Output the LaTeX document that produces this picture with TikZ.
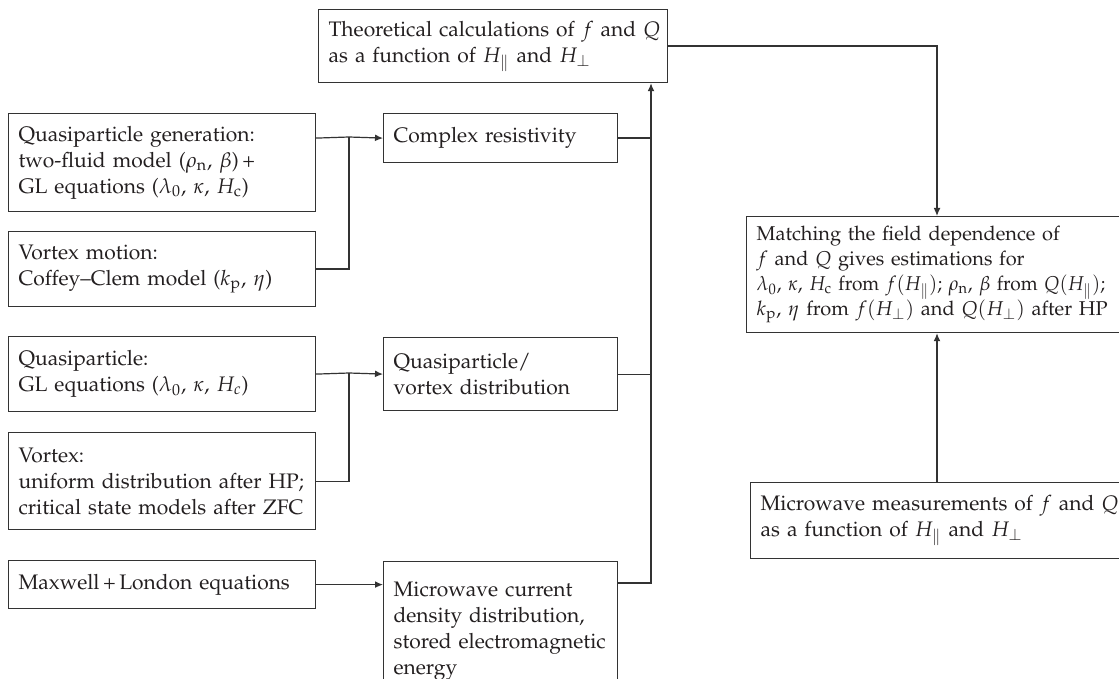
\documentclass[tikz,border=0pt]{standalone}
\usepackage[T1]{fontenc}
\usepackage{mathpazo}
\usepackage{graphicx}
\usetikzlibrary{arrows.meta}
\definecolor{linec}{HTML}{333333}
\definecolor{textc}{HTML}{231F20}
\newcommand\oneline[1]{\mbox{#1}}
\tikzset{
  box/.style={draw=linec, line width=0.6pt, anchor=north west, align=left,
    inner xsep=5pt, inner ysep=0pt, text=textc,
    font=\fontsize{10.5}{13}\selectfont},
  ln/.style={draw=linec, line width=0.6pt},
  arr/.style={ln, -{Latex[length=4pt,width=3.4pt]}}
}
\begin{document}
\begin{tikzpicture}[x=0.5pt,y=-0.5pt]
\useasboundingbox (0,0) rectangle (1119,679);
% boxes
\node[box, minimum width=174.5pt, minimum height=36.5pt, text width=164.5pt] (theo) at (318,9)
  {\oneline{Theoretical calculations of $f$ and $Q$}\\\oneline{as a function of $H_{\parallel}$ and $H_{\perp}$}};
\node[box, minimum width=153.5pt, minimum height=49pt, text width=143.5pt] (qg) at (8,113)
  {\oneline{Quasiparticle generation:}\\\oneline{two-fluid model ($\rho_{\mathrm{n}}$, $\beta$)\,+}\\\oneline{GL equations ($\lambda_0$, $\kappa$, $H_{\mathrm{c}}$)}};
\node[box, minimum width=153.5pt, minimum height=37.5pt, text width=143.5pt] (vm) at (8,231)
  {\oneline{Vortex motion:}\\\oneline{Coffey--Clem model ($k_{\mathrm{p}}$, $\eta$)}};
\node[box, minimum width=153.5pt, minimum height=37.5pt, text width=143.5pt] (qp) at (8,336)
  {\oneline{Quasiparticle:}\\\oneline{GL equations ($\lambda_0$, $\kappa$, $H_c$)}};
\node[box, minimum width=153.5pt, minimum height=48.5pt, text width=143.5pt] (vx) at (8,432)
  {\oneline{Vortex:}\\\oneline{uniform distribution after HP;}\\\oneline{critical state models after ZFC}};
\node[box, minimum width=153.5pt, minimum height=24pt, text width=143.5pt] (mx) at (8,560)
  {\oneline{Maxwell\,+\,London equations}};
\node[box, minimum width=117pt, minimum height=24.5pt, text width=107pt] (cr) at (383,113)
  {\oneline{Complex resistivity}};
\node[box, minimum width=117pt, minimum height=36.5pt, text width=107pt] (qv) at (383,337)
  {\oneline{Quasiparticle/}\\\oneline{vortex distribution}};
\node[box, minimum width=117pt, minimum height=70pt, text width=107pt] (mc) at (383,561)
  {\oneline{Microwave current}\\\oneline{density distribution,}\\\oneline{stored electromagnetic}\\\oneline{energy}};
\node[box, minimum width=189.5pt, minimum height=58pt, text width=179.5pt,
      font=\fontsize{10}{12.5}\selectfont] (match) at (746,216)
  {\oneline{Matching the field dependence of}\\\oneline{$f$ and $Q$ gives estimations for}\\\scalebox{0.955}[1]{$\lambda_0$, $\kappa$, $H_{\mathrm{c}}$ from $f(H_{\parallel})$; $\rho_{\mathrm{n}}$, $\beta$ from $Q(H_{\parallel})$;}\\\oneline{$k_{\mathrm{p}}$, $\eta$ from $f(H_{\perp})$ and $Q(H_{\perp})$ after HP}};
\node[box, minimum width=187.5pt, minimum height=38pt, text width=177.5pt] (meas) at (750,482)
  {\oneline{Microwave measurements of $f$ and $Q$}\\\oneline{as a function of $H_{\parallel}$ and $H_{\perp}$}};
% junction coordinates
\coordinate (j1) at (349,137);
\coordinate (j2) at (349,373);
\coordinate (bus) at (651,583);
\coordinate (rt) at (937,45);
% connectors
\draw[ln] (qg.east |- cr.west) -- (j1);
\draw[ln] (vm.east) -| (j1);
\draw[arr] (j1) -- (cr.west);
\draw[ln] (qp.east |- qv.west) -- (j2);
\draw[ln] (vx.east) -| (j2);
\draw[arr] (j2) -- (qv.west);
\draw[arr] (mx.east) -- (mc.west |- mx.east);
\draw[ln] (cr.east) -- (cr.east -| bus);
\draw[ln] (qv.east) -- (qv.east -| bus);
\draw[arr] (mc.east |- bus) -- (bus) -- (bus |- theo.south);
\draw[arr] (theo.east) -- (theo.east -| rt) -- (rt |- match.north);
\draw[arr] (meas.north -| rt) -- (rt |- match.south);
\end{tikzpicture}
\end{document}
